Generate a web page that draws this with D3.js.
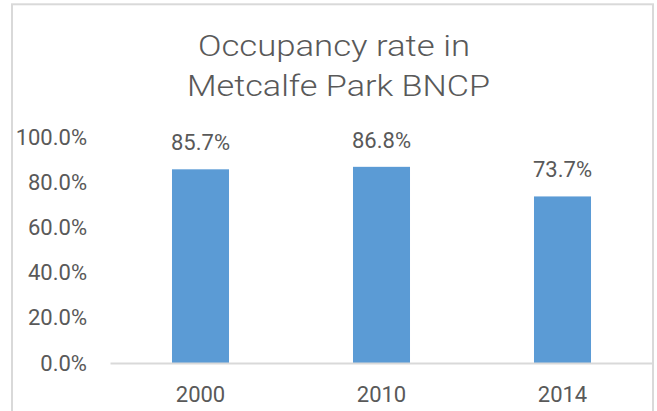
<!DOCTYPE html>
<html><head><meta charset="utf-8">
<script src="https://cdn.jsdelivr.net/npm/d3@7"></script>
<style>
html,body{margin:0;padding:0;background:#fff;}
svg text{font-family:Roboto,"Noto Sans",sans-serif;fill:#595959;}
</style></head>
<body><svg id="c" width="657" height="411"></svg>
<script>
const categories = ["2000", "2010", "2014"];
const values = [0.857, 0.868, 0.737];
const yTicks = [0, 0.2, 0.4, 0.6, 0.8, 1.0];
const titleLines = ["Occupancy rate in", "Metcalfe Park BNCP"];

const svg = d3.select("#c");
const W = 657, H = 411;
const m = {left: 110, right: 4, top: 137, bottom: 48};

// chart border
svg.append("rect").attr("x", 12).attr("y", 4.3).attr("width", 641).attr("height", 420)
  .attr("fill", "#fff").attr("stroke", "#D9D9D9").attr("stroke-width", 2);

const x = d3.scaleBand().domain(categories).range([m.left, W - m.right]).paddingInner(0.685).paddingOuter(0.3425);
const y = d3.scaleLinear().domain([0, 1]).range([H - m.bottom, m.top]);

// title
const titleW = [272, 303];
svg.append("g").selectAll("text").data(titleLines).join("text")
  .attr("x", (d, i) => i === 0 ? 334 : 338.5).attr("y", (d, i) => 56 + i * 40)
  .attr("text-anchor", "middle").attr("font-size", 30).attr("font-weight", 300)
  .attr("textLength", (d, i) => titleW[i]).attr("lengthAdjust", "spacingAndGlyphs")
  .text(d => d);

// bars
svg.append("g").selectAll("rect").data(values).join("rect")
  .attr("x", (d, i) => x(categories[i]))
  .attr("y", d => y(d))
  .attr("width", x.bandwidth())
  .attr("height", d => y(0) - y(d))
  .attr("fill", "#5B9BD5");

// x axis baseline + labels
const xAxis = svg.append("g").attr("transform", `translate(0,${y(0)})`)
  .call(d3.axisBottom(x).tickSize(0).tickPadding(23));
xAxis.select(".domain").attr("stroke", "#D9D9D9").attr("stroke-width", 2);
xAxis.selectAll("text").attr("font-size", 22).attr("fill", "#595959").attr("font-family", "Roboto");

// y axis labels (no line)
const yAxis = svg.append("g").attr("transform", `translate(${m.left - 23},0)`)
  .call(d3.axisLeft(y).tickValues(yTicks).tickSize(0).tickPadding(0).tickFormat(d3.format(".1%")));
yAxis.select(".domain").remove();
yAxis.selectAll("text").attr("font-size", 22).attr("fill", "#595959").attr("font-family", "Roboto");

// data labels
svg.append("g").selectAll("text").data(values).join("text")
  .attr("x", (d, i) => x(categories[i]) + x.bandwidth() / 2)
  .attr("y", d => y(d) - 19)
  .attr("text-anchor", "middle").attr("font-size", 22)
  .text(d => d3.format(".1%")(d));
</script></body></html>
